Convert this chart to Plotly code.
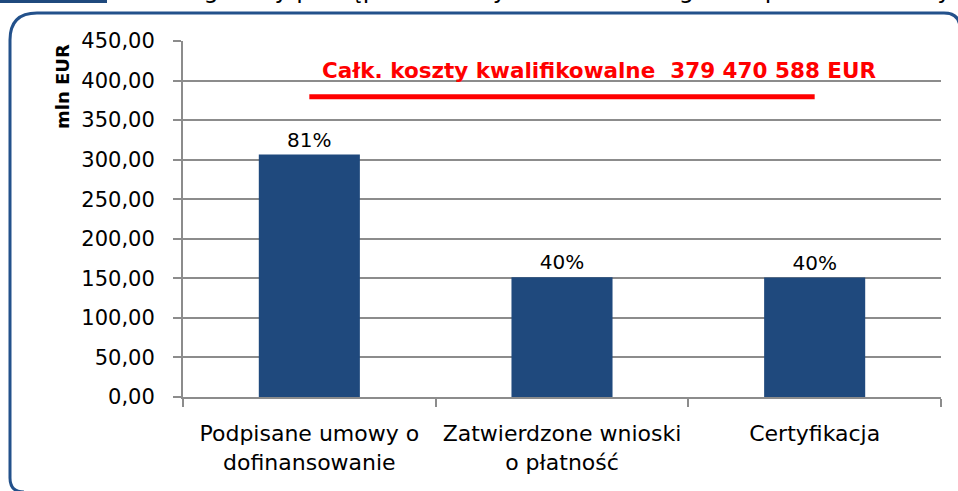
import plotly.graph_objects as go

# dane z wykresu
kategorie = ["Podpisane umowy o<br>dofinansowanie", "Zatwierdzone wnioski<br>o płatność", "Certyfikacja"]
wartosci = [306.5, 151.5, 151.0]          # mln EUR
procenty = ["81%", "40%", "40%"]
koszty_kwalif = 379.47                    # mln EUR
tytul_linii = "Całk. koszty kwalifikowalne  379 470 588 EUR"
tekst_gora = "Szczegółowy postęp finansowy w ramach Programu przedstawia wykres poniżej."

W, H = 958, 491
ML, MR, MT, MB = 183, 17, 41, 94
PW, PH = W - ML - MR, H - MT - MB
granat = "#1f497d"
szary = "#8c8c8c"


def px(x):
    return (x - ML) / PW


def py(y):
    return (H - MB - y) / PH


fig = go.Figure()
fig.add_trace(go.Bar(x=kategorie, y=wartosci, text=procenty, textposition="outside",
                     constraintext="none", cliponaxis=False,
                     textfont=dict(size=20, color="black"),
                     marker=dict(color=granat, line=dict(width=0)), width=0.4))
fig.add_trace(go.Scatter(x=[kategorie[0], kategorie[2]], y=[koszty_kwalif, koszty_kwalif],
                         mode="lines", line=dict(color="#ff0000", width=5)))

# ramka z zaokraglonymi rogami
ramka = (f"M {px(24)},{py(492)} Q {px(10)},{py(492)} {px(10)},{py(478)} "
         f"L {px(10)},{py(40)} Q {px(10)},{py(13)} {px(37)},{py(13)} "
         f"L {px(944)},{py(13)} Q {px(960)},{py(13)} {px(960)},{py(29)} L {px(960)},{py(500)}")
fig.add_shape(type="path", path=ramka, xref="paper", yref="paper",
              line=dict(color="#23518b", width=3))
fig.add_shape(type="rect", xref="paper", yref="paper", x0=px(0), x1=px(107), y0=py(3), y1=py(-5),
              fillcolor=granat, line=dict(width=0))

fig.add_annotation(text=tekst_gora, xref="paper", yref="paper", x=px(133), y=py(6),
                   xanchor="left", yanchor="bottom", showarrow=False,
                   font=dict(size=24, color="black"))
fig.add_annotation(text="<b>" + tytul_linii + "</b>", xref="paper", yref="paper",
                   x=px(599), y=py(70), xanchor="center", yanchor="middle", showarrow=False,
                   font=dict(size=21.5, color="#ff0000"))
fig.add_annotation(text="<b>mln EUR</b>", xref="paper", yref="paper", x=px(62), y=py(87),
                   xanchor="center", yanchor="middle", textangle=-90, showarrow=False,
                   font=dict(size=18, color="black"))

fig.update_layout(
    width=W, height=H, margin=dict(l=ML, r=MR, t=MT, b=MB),
    paper_bgcolor="white", plot_bgcolor="white", showlegend=False,
    separators=", ", font=dict(family="DejaVu Sans", size=20, color="black"),
    bargap=0.6,
)
fig.update_xaxes(showline=True, linecolor=szary, linewidth=2, ticks="outside",
                 tickson="boundaries", ticklen=8, tickcolor=szary, tickwidth=2,
                 tickfont=dict(size=22), ticklabelstandoff=16, showgrid=False)
fig.update_yaxes(range=[0, 450], dtick=50, tickformat=".2f", showline=True, linecolor=szary,
                 linewidth=2, ticks="outside", ticklen=8, tickcolor=szary, tickwidth=2,
                 showgrid=True, gridcolor=szary, gridwidth=2, tickfont=dict(size=21),
                 ticklabelstandoff=14, zeroline=False)

# bez marginesu strony, zeby wykres zaczynal sie w rogu okna
fig.write_html("out.html", config={"displayModeBar": False},
               post_script="document.body.style.margin='0';")
